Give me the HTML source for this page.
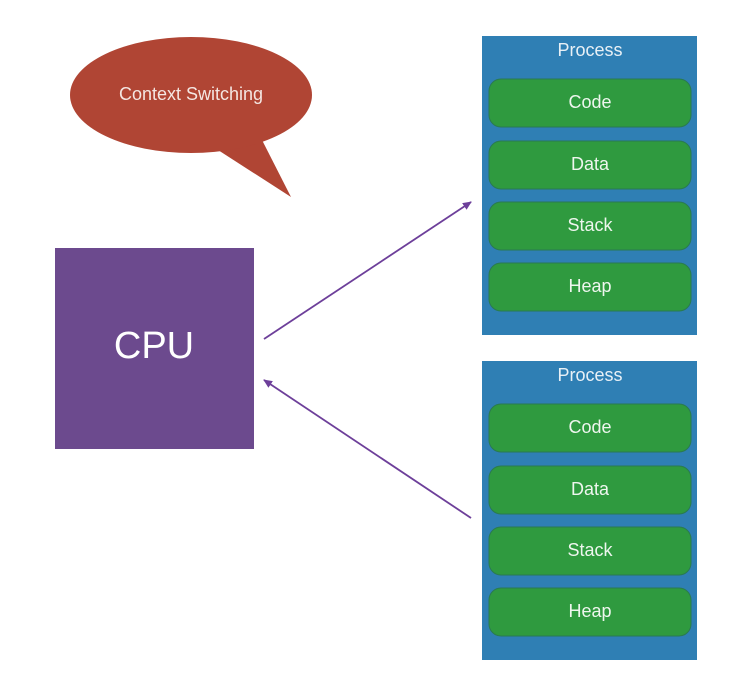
<html><body style="margin:0;width:736px;height:677px;background:#fff;overflow:hidden">
<svg width="736" height="677" xmlns="http://www.w3.org/2000/svg" font-family="Liberation Sans, sans-serif">
<defs><marker id="a" markerWidth="10" markerHeight="10" refX="8" refY="5" orient="auto" markerUnits="userSpaceOnUse"><path d="M0,1 L9,5 L0,9 Z" fill="#6d3f9a"/></marker></defs>
<path d="M218,150 L291,197 L262,140 Z" fill="#b04534"/>
<ellipse cx="191" cy="95" rx="121" ry="58" fill="#b04534"/>
<text x="191" y="100" text-anchor="middle" font-size="18" fill="#f4e6e2">Context Switching</text>
<rect x="55" y="248" width="199" height="201" fill="#6c4a8e"/>
<text x="154" y="358" text-anchor="middle" font-size="38" fill="#fff">CPU</text>
<line x1="264" y1="339" x2="471" y2="202" stroke="#6d3f9a" stroke-width="1.8" marker-end="url(#a)"/>
<line x1="471" y1="518" x2="264" y2="380" stroke="#6d3f9a" stroke-width="1.8" marker-end="url(#a)"/>
<g id="p">
<rect x="482" y="36" width="215" height="299" fill="#2f7fb4"/>
<text x="590" y="56" text-anchor="middle" font-size="18" fill="#e8f0f6">Process</text>
<rect x="489" y="79" width="202" height="48" rx="12" fill="#2f9a3f" stroke="#2a7a50"/>
<text x="590" y="108" text-anchor="middle" font-size="18" fill="#eef6ee">Code</text>
<rect x="489" y="141" width="202" height="48" rx="12" fill="#2f9a3f" stroke="#2a7a50"/>
<text x="590" y="170" text-anchor="middle" font-size="18" fill="#eef6ee">Data</text>
<rect x="489" y="202" width="202" height="48" rx="12" fill="#2f9a3f" stroke="#2a7a50"/>
<text x="590" y="231" text-anchor="middle" font-size="18" fill="#eef6ee">Stack</text>
<rect x="489" y="263" width="202" height="48" rx="12" fill="#2f9a3f" stroke="#2a7a50"/>
<text x="590" y="292" text-anchor="middle" font-size="18" fill="#eef6ee">Heap</text>
</g>
<use href="#p" y="325"/>
</svg>
</body></html>
